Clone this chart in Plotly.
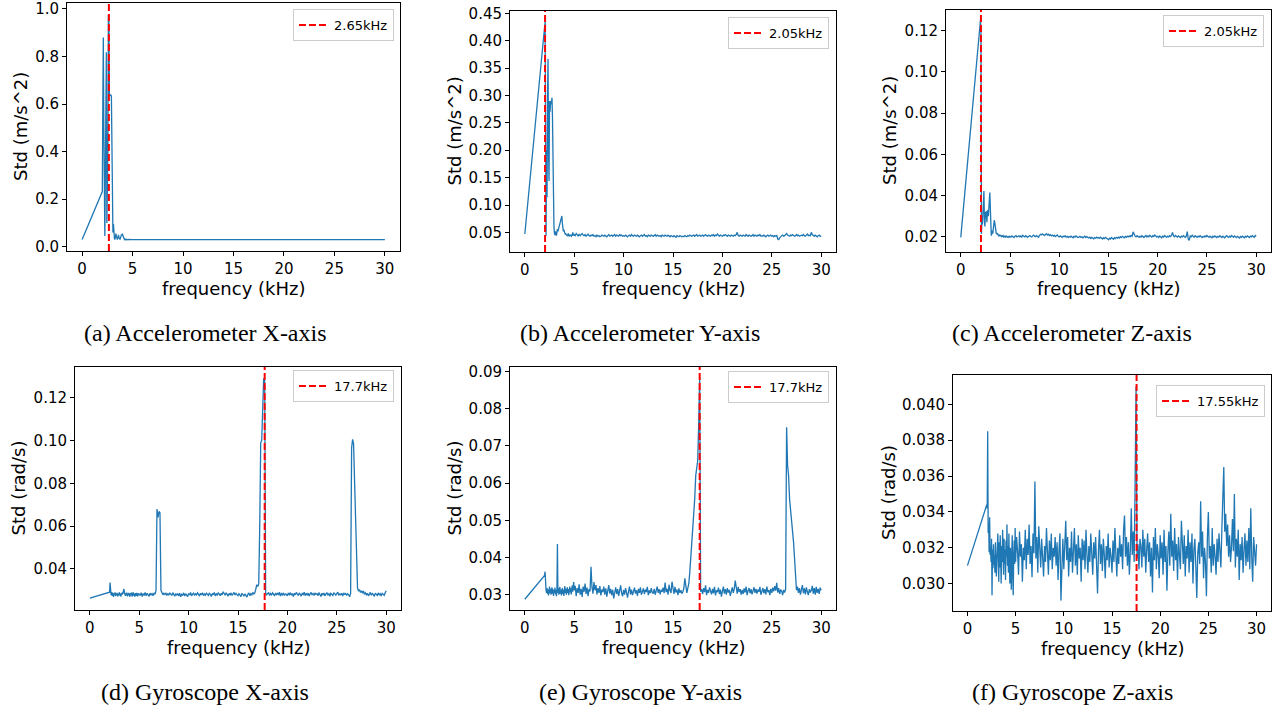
import plotly.graph_objects as go

W, H = 1278, 706

# ---------------- data ----------------
# each series: value at 0 kHz, then 2.00-4.95 kHz (step 0.05), then 5.0-30.0 kHz (step 0.1)
# Accelerometer X (units 1e-3 m/s^2)
A_HEAD = [30]
A_FINE = [232, 600, 880, 500, 200, 45, 300, 600, 818, 100,
          250, 395, 975, 970, 640, 640, 635, 640, 630, 350,
          100, 60, 95, 50, 35, 30, 45, 55, 42, 32,
          30, 38, 50, 40, 32, 30, 36, 45, 52, 48,
          55, 45, 36, 31, 30, 32, 30, 29, 31, 30,
          30, 29, 31, 30, 29, 30, 31, 29, 30, 30]
A_TAIL = [30, 29, 30, 31, 29, 30, 30, 29, 30, 31,
          30, 29, 30, 30, 31, 29, 30, 30, 29, 30,
          31, 30, 29, 30, 30, 29, 31, 30, 30, 29,
          30, 30, 31, 29, 30, 30, 29, 30, 31, 30,
          29, 30, 30, 31, 30, 29, 30, 30, 29, 30,
          30, 31, 29, 30, 30, 30, 29, 31, 30, 30,
          29, 30, 30, 29, 31, 30, 30, 29, 30, 30,
          31, 30, 29, 30, 30, 31, 29, 30, 30, 29,
          30, 30, 31, 30, 29, 30, 30, 29, 31, 30,
          30, 29, 30, 30, 31, 30, 29, 30, 30, 31,
          29, 30, 30, 29, 30, 31, 30, 29, 30, 30,
          30, 31, 29, 30, 30, 29, 30, 31, 30, 29,
          30, 30, 29, 31, 30, 30, 29, 30, 30, 31,
          29, 30, 30, 30, 31, 29, 30, 30, 29, 30,
          31, 30, 29, 30, 30, 31, 30, 29, 30, 30,
          30, 29, 31, 30, 30, 29, 30, 30, 31, 30,
          29, 30, 30, 31, 29, 30, 30, 29, 30, 31,
          30, 30, 29, 30, 31, 30, 29, 30, 30, 29,
          31, 30, 30, 29, 30, 30, 31, 29, 30, 30,
          30, 29, 30, 31, 30, 29, 30, 30, 29, 31,
          30, 30, 31, 29, 30, 30, 29, 31, 30, 30,
          29, 31, 30, 30, 29, 30, 31, 30, 30, 29,
          30, 30, 29, 31, 30, 30, 29, 30, 31, 30,
          31, 29, 30, 30, 31, 30, 30, 29, 30, 31,
          30, 31, 30, 29, 30, 31, 30, 30, 31, 30,
          30]

# Accelerometer Y (units 1e-3 m/s^2)
B_HEAD = [47]
B_FINE = [420, 434, 250, 44, 200, 114, 300, 367, 200, 144,
          290, 270, 283, 290, 285, 296, 260, 170, 100, 60,
          48, 45, 52, 46, 44, 50, 56, 52, 55, 58,
          62, 66, 68, 70, 74, 80, 66, 56, 52, 55,
          50, 48, 46, 47, 45, 46, 44, 45, 48, 44,
          43, 46, 44, 45, 43, 45, 44, 50, 46, 44]
B_TAIL = [46, 44, 48, 45, 43, 47, 44, 46, 48, 45,
          44, 46, 43, 45, 47, 44, 43, 45, 44, 46,
          43, 44, 42, 45, 43, 44, 42, 43, 45, 44,
          43, 45, 44, 42, 44, 46, 43, 44, 45, 43,
          44, 46, 43, 45, 44, 43, 46, 44, 45, 43,
          44, 43, 45, 44, 42, 44, 45, 43, 46, 44,
          43, 45, 44, 43, 45, 44, 42, 44, 45, 43,
          44, 46, 43, 44, 42, 45, 44, 43, 45, 44,
          43, 44, 46, 43, 45, 44, 43, 44, 42, 45,
          44, 43, 45, 44, 43, 45, 44, 42, 44, 43,
          42, 44, 43, 41, 44, 43, 42, 44, 43, 42,
          43, 42, 44, 43, 42, 44, 43, 45, 44, 43,
          44, 45, 43, 44, 46, 43, 44, 45, 43, 44,
          45, 43, 44, 46, 44, 43, 45, 44, 43, 45,
          44, 46, 43, 45, 44, 47, 44, 43, 45, 44,
          43, 45, 44, 46, 44, 43, 45, 44, 43, 45,
          44, 43, 45, 44, 46, 50, 44, 43, 45, 44,
          43, 45, 44, 43, 46, 44, 43, 45, 44, 43,
          44, 46, 43, 45, 44, 43, 45, 44, 46, 43,
          44, 43, 45, 44, 42, 44, 45, 43, 44, 45,
          43, 44, 42, 44, 43, 45, 38, 37, 40, 43,
          44, 45, 43, 44, 46, 48, 45, 44, 43, 45,
          44, 46, 45, 43, 44, 46, 44, 45, 43, 44,
          45, 44, 46, 44, 43, 45, 47, 44, 45, 44,
          50, 46, 44, 43, 45, 44, 42, 44, 45, 43,
          43]

# Accelerometer Z (units 1e-4 m/s^2)
C_HEAD = [197]
C_FINE = [1250, 1200, 213, 300, 260, 330, 380, 422, 280, 250,
          320, 290, 325, 270, 310, 330, 300, 360, 395, 415,
          340, 250, 205, 215, 230, 215, 240, 262, 280, 270,
          240, 222, 215, 218, 210, 213, 208, 205, 210, 206,
          203, 208, 205, 201, 204, 202, 205, 200, 203, 201,
          198, 202, 200, 203, 199, 201, 197, 200, 202, 199]
C_TAIL = [202, 198, 204, 200, 196, 203, 206, 199, 201, 205,
          200, 204, 198, 207, 202, 199, 205, 201, 197, 203,
          206, 201, 199, 204, 208, 203, 200, 205, 202, 198,
          207, 212, 209, 214, 210, 206, 211, 215, 208, 212,
          206, 210, 204, 208, 203, 207, 201, 205, 209, 202,
          199, 204, 201, 197, 203, 200, 205, 198, 202, 196,
          201, 198, 203, 199, 195, 202, 198, 204, 199, 196,
          198, 202, 197, 200, 195, 199, 203, 196, 201, 197,
          194, 198, 192, 197, 195, 190, 196, 193, 198, 194,
          196, 192, 198, 193, 189, 195, 191, 197, 194, 190,
          185, 193, 189, 196, 192, 188, 195, 191, 197, 193,
          198, 194, 200, 196, 202, 198, 195, 201, 197, 203,
          199, 204, 200, 206, 202, 224, 208, 203, 199, 205,
          201, 197, 203, 199, 205, 200, 196, 202, 206, 199,
          204, 200, 207, 202, 198, 205, 201, 208, 203, 199,
          202, 197, 204, 200, 195, 203, 199, 206, 201, 197,
          203, 199, 205, 201, 207, 221, 204, 200, 206, 202,
          198, 204, 200, 196, 203, 199, 205, 201, 197, 203,
          225, 188, 182, 204, 200, 207, 202, 198, 205, 201,
          197, 203, 199, 205, 200, 196, 202, 198, 204, 200,
          206, 201, 197, 203, 199, 195, 202, 198, 204, 199,
          196, 202, 198, 205, 200, 196, 203, 199, 195, 201,
          205, 200, 197, 203, 199, 206, 201, 197, 204, 200,
          196, 202, 198, 194, 201, 197, 203, 199, 195, 202,
          198, 204, 200, 196, 203, 199, 205, 201, 197, 206,
          203]

# Gyroscope X (units 1e-4 rad/s)
D_HEAD = [263]
D_FINE = [291, 336, 285, 278, 292, 274, 289, 281, 270, 286,
          279, 290, 273, 284, 276, 288, 280, 271, 285, 278,
          291, 275, 283, 270, 287, 279, 290, 283, 296, 306,
          292, 281, 274, 286, 278, 289, 272, 284, 277, 288,
          281, 270, 286, 276, 289, 279, 271, 284, 291, 275,
          283, 270, 287, 279, 274, 288, 280, 272, 286, 278]
D_TAIL = [284, 276, 289, 271, 283, 278, 290, 274, 286, 280,
          272, 287, 279, 284, 275, 288, 281, 298, 680, 640,
          668, 662, 300, 290, 279, 286, 281, 288, 276, 284,
          279, 287, 282, 276, 289, 281, 272, 285, 278, 283,
          274, 286, 270, 281, 277, 288, 273, 284, 279, 271,
          285, 278, 290, 274, 282, 287, 276, 284, 279, 288,
          281, 273, 286, 279, 289, 275, 283, 277, 287, 280,
          276, 288, 282, 271, 285, 279, 290, 274, 283, 278,
          289, 281, 275, 286, 279, 293, 284, 277, 288, 282,
          273, 285, 279, 288, 276, 283, 290, 278, 286, 280,
          275, 284, 279, 271, 286, 280, 274, 283, 277, 268,
          281, 288, 275, 284, 279, 290, 283, 288, 305, 326,
          318, 330, 600, 990, 1000, 1225, 1290, 1280, 287, 279,
          283, 290, 276, 285, 279, 288, 281, 274, 287, 280,
          286, 278, 291, 273, 284, 279, 288, 276, 283, 281,
          274, 287, 280, 289, 277, 284, 271, 286, 279, 290,
          282, 276, 288, 279, 273, 285, 280, 291, 275, 284,
          279, 287, 273, 283, 290, 278, 285, 276, 288, 281,
          284, 275, 289, 280, 271, 286, 279, 287, 274, 283,
          288, 279, 284, 272, 286, 281, 276, 289, 283, 277,
          284, 291, 277, 283, 279, 286, 273, 288, 281, 285,
          276, 284, 279, 270, 285, 964, 1005, 985, 810, 650,
          450, 310, 296, 303, 290, 298, 286, 297, 281, 288,
          279, 286, 274, 283, 290, 277, 285, 280, 272, 287,
          281, 276, 288, 279, 284, 273, 286, 280, 277, 289,
          298]

# Gyroscope Y (units 1e-4 rad/s)
E_HEAD = [288]
E_FINE = [352, 362, 318, 312, 305, 318, 302, 314, 298, 310,
          322, 304, 316, 300, 311, 320, 303, 315, 297, 312,
          306, 319, 301, 313, 296, 310, 436, 305, 317, 300,
          312, 321, 303, 314, 298, 309, 318, 302, 313, 297,
          311, 323, 305, 316, 300, 312, 320, 304, 315, 299,
          310, 322, 306, 317, 301, 313, 325, 308, 319, 334]
E_TAIL = [312, 324, 296, 318, 305, 328, 300, 316, 294, 322,
          308, 330, 302, 319, 296, 315, 309, 375, 320, 303,
          334, 312, 326, 301, 318, 305, 323, 298, 314, 307,
          322, 300, 317, 295, 311, 326, 303, 316, 299, 313,
          290, 308, 320, 302, 315, 297, 311, 325, 304, 296,
          313, 300, 318, 306, 292, 310, 322, 301, 314, 299,
          308, 319, 303, 312, 297, 316, 305, 320, 300, 311,
          317, 302, 314, 307, 321, 299, 312, 304, 318, 306,
          303, 316, 300, 311, 322, 305, 315, 301, 313, 308,
          319, 304, 333, 307, 316, 300, 327, 311, 305, 335,
          310, 302, 321, 306, 314, 299, 317, 305, 312, 303,
          308, 318, 344, 320, 305, 318, 330, 360, 400, 433,
          460, 505, 558, 620, 648, 660, 755, 885, 308, 315,
          302, 318, 307, 325, 299, 313, 305, 320, 310, 301,
          316, 304, 321, 298, 312, 307, 319, 302, 314, 295,
          309, 322, 303, 315, 300, 318, 306, 313, 297, 311,
          320, 305, 316, 338, 312, 303, 321, 307, 315, 300,
          313, 302, 317, 306, 322, 299, 311, 318, 304, 315,
          301, 312, 320, 305, 316, 303, 314, 308, 321, 300,
          310, 318, 304, 315, 301, 322, 307, 313, 299, 316,
          305, 319, 309, 323, 311, 332, 306, 318, 302, 314,
          310, 299, 313, 306, 315, 750, 648, 620, 557, 530,
          500, 470, 442, 400, 340, 312, 322, 305, 318, 300,
          314, 326, 304, 317, 301, 320, 308, 299, 315, 306,
          312, 324, 303, 318, 300, 321, 305, 316, 302, 319,
          312]

# Gyroscope Z (units 1e-5 rad/s)
F_HEAD = [3100]
F_FINE = [3440, 3420, 3850, 3282, 3340, 3175, 3370, 3160, 3205, 3120,
          3250, 2935, 3190, 3085, 3220, 3105, 3160, 3060, 3230, 3140,
          3040, 3195, 3110, 3280, 3150, 3010, 3230, 3090, 3270, 3130,
          3000, 3210, 3120, 3300, 3160, 3050, 3250, 3110, 3190, 3020,
          3240, 3150, 3330, 3100, 3210, 3060, 3280, 3140, 3000, 3200,
          3090, 2965, 3180, 3270, 3050, 2935, 3150, 3240, 3110, 3310]
F_TAIL = [3120, 3260, 3180, 3050, 3290, 3150, 3220, 3010, 3200, 3130,
          3300, 3080, 3250, 3160, 3330, 3110, 3210, 3035, 3280, 3170,
          3570, 3140, 3260, 3060, 3320, 3190, 3090, 3250, 3140, 3040,
          3210, 3120, 3310, 3170, 3050, 3240, 3130, 3280, 3080, 3200,
          3150, 3260, 3100, 3230, 3020, 3190, 3280, 2905, 3160, 3250,
          3080, 3210, 3350, 3130, 3260, 3040, 3200, 3120, 3290, 3060,
          3180, 3310, 3100, 3220, 3050, 3270, 3140, 3200, 3010, 3250,
          3130, 3240, 3080, 3300, 3160, 3060, 3210, 3120, 3280, 3170,
          3050, 3230, 3140, 3260, 3100, 2945, 3190, 3300, 3110, 3220,
          3070, 3250, 3160, 3030, 3210, 3130, 3280, 3090, 3200, 3150,
          3060, 3240, 3120, 3310, 3170, 3040, 3200, 3110, 3270, 3150,
          3220, 3080, 3300, 3380, 3150, 3260, 3100, 3230, 3050, 3180,
          3420, 3160, 3290, 3120, 3570, 4100, 3140, 3220, 3080, 3250,
          3210, 3090, 3300, 3150, 3250, 3060, 3190, 3280, 3120, 3230,
          3040, 3200, 2950, 3260, 3130, 3310, 3080, 3220, 3160, 3030,
          3270, 3140, 3230, 3050, 3300, 3120, 3210, 2960, 3180, 3290,
          3100, 3390, 3150, 3240, 3070, 3310, 3130, 3220, 3020, 3260,
          3160, 3080, 3350, 3190, 3110, 3270, 3040, 3210, 3140, 3300,
          3060, 3230, 3120, 3280, 3000, 3190, 3250, 3090, 2920, 3170,
          3230, 3110, 3460, 3150, 3290, 3030, 3200, 3120, 2930, 3260,
          3400, 3140, 3210, 3060, 3310, 3100, 3220, 3150, 3050, 3250,
          3120, 3280, 3170, 3090, 3300, 3550, 3650, 3290, 3390, 3210,
          3330, 3150, 3270, 3120, 3200, 3360, 3180, 3500, 3090, 3250,
          3150, 3300, 3020, 3220, 3130, 3260, 3060, 3190, 3280, 3100,
          3240, 3120, 3310, 3080, 3420, 3150, 3010, 3260, 3130, 3100,
          3220]

SERIES = [(A_HEAD, A_FINE, A_TAIL, 1e-3), (B_HEAD, B_FINE, B_TAIL, 1e-3),
          (C_HEAD, C_FINE, C_TAIL, 1e-4), (D_HEAD, D_FINE, D_TAIL, 1e-4),
          (E_HEAD, E_FINE, E_TAIL, 1e-4), (F_HEAD, F_FINE, F_TAIL, 1e-5)]

PEAK_FREQ = [2.65, 2.05, 2.05, 17.7, 17.7, 17.55]
PEAK_LABEL = ["2.65kHz", "2.05kHz", "2.05kHz", "17.7kHz", "17.7kHz", "17.55kHz"]
X_TICKS = [0, 5, 10, 15, 20, 25, 30]
Y_TICKS = [[0.0, 0.2, 0.4, 0.6, 0.8, 1.0],
           [0.05, 0.10, 0.15, 0.20, 0.25, 0.30, 0.35, 0.40, 0.45],
           [0.02, 0.04, 0.06, 0.08, 0.10, 0.12],
           [0.04, 0.06, 0.08, 0.10, 0.12],
           [0.03, 0.04, 0.05, 0.06, 0.07, 0.08, 0.09],
           [0.030, 0.032, 0.034, 0.036, 0.038, 0.040]]
Y_FMT = [".1f", ".2f", ".2f", ".2f", ".2f", ".3f"]
Y_LABELS = ["Std (m/s^2)"] * 3 + ["Std (rad/s)"] * 3
X_LABEL = "frequency (kHz)"
CAPTIONS = ["(a) Accelerometer X-axis", "(b) Accelerometer Y-axis", "(c) Accelerometer Z-axis",
            "(d) Gyroscope X-axis", "(e) Gyroscope Y-axis", "(f) Gyroscope Z-axis"]

# ---------------- layout (pixels) ----------------
BOXES = [(67, 3, 400, 251), (510, 11, 836, 252), (946, 10, 1271, 252),
         (75, 367, 401, 610), (510, 367, 836, 610), (953, 375, 1271, 611)]
Y_RANGES = [(-0.018, 1.025), (0.0142, 0.4542), (0.0126, 0.1300),
            (0.0208, 0.1343), (0.0259, 0.0912), (0.02847, 0.04164)]
YLAB_X = [20, 454, 889, 18, 454, 889]
CAP_POS = [(205, 333), (640, 333), (1072, 333), (205, 692), (640, 692), (1072, 692)]
LEG_POS = [(394, 9), (829, 17), (1264, 15), (394, 370), (829, 371), (1265, 385)]


def px(x):
    return x / W


def py(y):
    return 1 - y / H


def build_freq(fine, tail):
    assert len(fine) == 60 and len(tail) == 251, (len(fine), len(tail))
    return ([0.0] + [round(2.0 + 0.05 * i, 2) for i in range(len(fine))]
            + [round(5.0 + 0.1 * i, 1) for i in range(len(tail))])


fig = go.Figure()
annotations = []
TICKFONT = dict(family="DejaVu Sans", size=15, color="black")
LABELFONT = dict(family="DejaVu Sans", size=18, color="black")

for i, (head, fine, tail, scale) in enumerate(SERIES):
    n = i + 1
    sfx = "" if n == 1 else str(n)
    freq = build_freq(fine, tail)
    vals = [v * scale for v in head + fine + tail]
    fig.add_trace(go.Scatter(x=freq, y=vals, mode="lines",
                             line=dict(color="#1f77b4", width=1.3),
                             showlegend=False, xaxis="x" + sfx, yaxis="y" + sfx,
                             hoverinfo="skip"))
    l, t, r, b = BOXES[i]
    common = dict(ticks="outside", ticklen=4, tickwidth=1, tickcolor="black",
                  showline=True, mirror=True, linecolor="black", linewidth=1,
                  showgrid=False, zeroline=False, tickfont=TICKFONT,
                  ticklabelstandoff=0, automargin=False)
    fig.update_layout(**{
        "xaxis" + sfx: dict(domain=[px(l), px(r)], anchor="y" + sfx, range=[-1.5, 31.5],
                            tickvals=X_TICKS, **common),
        "yaxis" + sfx: dict(domain=[py(b), py(t)], anchor="x" + sfx, range=list(Y_RANGES[i]),
                            tickvals=Y_TICKS[i], tickformat=Y_FMT[i], **common),
    })
    leg_key = "legend" + sfx
    lx, ly = LEG_POS[i]
    fig.update_layout(**{leg_key: dict(x=px(lx), y=py(ly), xanchor="right", yanchor="top",
                                       bgcolor="rgba(255,255,255,0.8)", bordercolor="#cccccc",
                                       borderwidth=1,
                                       font=dict(family="DejaVu Sans", size=13, color="black"))})
    fig.add_shape(type="line", x0=PEAK_FREQ[i], x1=PEAK_FREQ[i], y0=0, y1=1,
                  xref="x" + sfx, yref="y" + sfx + " domain",
                  line=dict(color="red", width=2, dash="7px,3px"),
                  showlegend=True, name=PEAK_LABEL[i], legend=leg_key)
    # axis labels
    annotations.append(dict(text=X_LABEL, x=px((l + r) / 2), y=py(b + 37), xref="paper",
                            yref="paper", xanchor="center", yanchor="middle",
                            showarrow=False, font=LABELFONT))
    annotations.append(dict(text=Y_LABELS[i], x=px(YLAB_X[i]), y=py((t + b) / 2),
                            xref="paper", yref="paper", xanchor="center", yanchor="middle",
                            textangle=-90, showarrow=False, font=LABELFONT))
    cx, cy = CAP_POS[i]
    annotations.append(dict(text=CAPTIONS[i], x=px(cx), y=py(cy), xref="paper", yref="paper",
                            xanchor="center", yanchor="middle", showarrow=False,
                            font=dict(family="Liberation Serif", size=24, color="black")))

fig.update_layout(width=W, height=H, margin=dict(l=0, r=0, t=0, b=0, autoexpand=False),
                  paper_bgcolor="white", plot_bgcolor="white",
                  annotations=annotations, showlegend=True)

fig.write_html("out.html", config={"displayModeBar": False},
               post_script="document.body.style.margin='0px';document.body.style.overflow='hidden';")
